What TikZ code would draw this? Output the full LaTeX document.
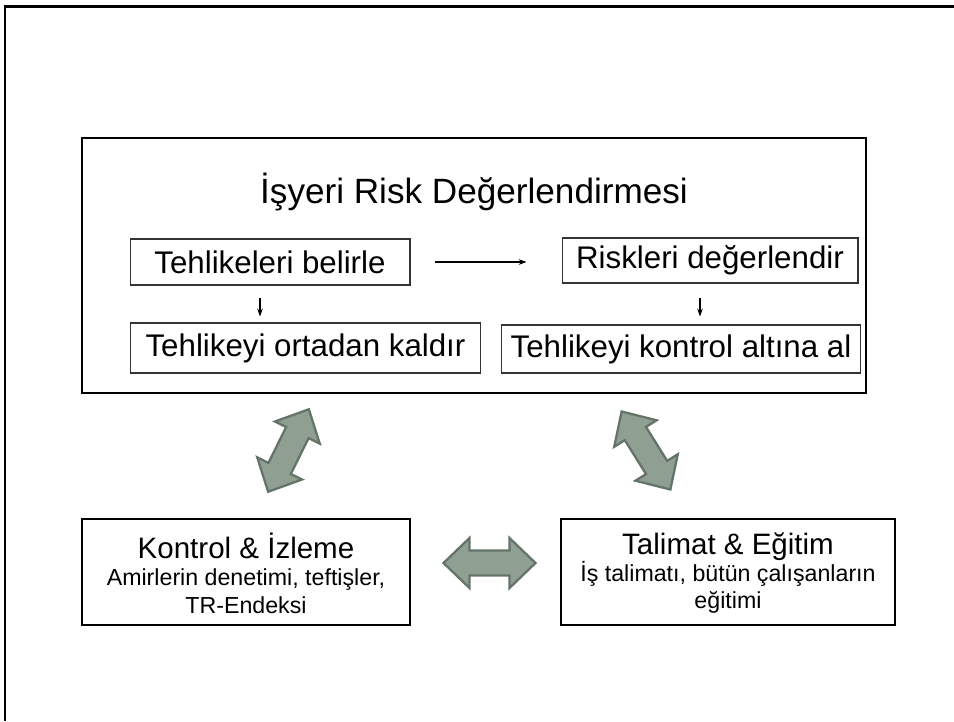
\documentclass[tikz,border=0pt]{standalone}
\usepackage{fontspec}
\setmainfont{Liberation Sans}
\usetikzlibrary{arrows.meta}

\definecolor{arrowfill}{RGB}{143,160,147}
\definecolor{arrowedge}{RGB}{100,116,104}

\tikzset{
  stepbox/.style={draw=black!80, line width=0.6pt, font=\fontsize{17.8}{20}\selectfont, inner sep=0pt},
  mainbox/.style={draw, line width=1.6pt, inner sep=0pt},
  lowbox/.style={draw, line width=1.4pt, inner sep=0pt},
  flow/.style={->, line width=0.6pt},
  blockarrow/.pic={
    \draw[fill=arrowfill, draw=arrowedge, line width=1.3pt, line join=miter]
      (-46,0) -- (-20,-25) -- (-20,-12.5) -- (20,-12.5) -- (20,-25) -- (46,0)
      -- (20,25) -- (20,12.5) -- (-20,12.5) -- (-20,25) -- cycle;
  }
}

\begin{document}
\begin{tikzpicture}[x=0.02cm, y=-0.02cm, >={Stealth[length=4.5pt, width=3.2pt]}]
    \useasboundingbox (0,0) rectangle (954,721);
    \draw[line width=1.7pt] (5,721) -- (5,6.5) -- (954,6.5);

    % risk assessment block
    \node[mainbox, minimum width=15.68cm, minimum height=5.1cm] (main) at (474,265.5) {};
    \node[font=\fontsize{20}{24}\selectfont] (title) at (474,192) {İşyeri Risk Değerlendirmesi};

    \node[stepbox, minimum width=5.6cm, minimum height=0.92cm] (tespit) at (270,262) {Tehlikeleri belirle};
    \node[stepbox, minimum width=5.92cm, minimum height=0.9cm] (degerle) at (710,260.5) {Riskleri değerlendir};
    \node[stepbox, minimum width=7.02cm, minimum height=1.0cm] (kaldir) at (305.5,348) {Tehlikeyi ortadan kaldır};
    \node[stepbox, minimum width=7.2cm, minimum height=0.96cm] (kontrolal) at (681,349) {Tehlikeyi kontrol altına al};

    \draw[flow, shorten <=0.5cm, shorten >=0.7cm] (tespit.east) -- (degerle.west |- tespit.east);
    \draw[flow, shorten <=0.24cm, shorten >=0.12cm] ([xshift=-0.2cm]tespit.south) -- ([xshift=-0.2cm]tespit.south |- kaldir.north);
    \draw[flow, shorten <=0.28cm, shorten >=0.16cm] ([xshift=-0.2cm]degerle.south) -- ([xshift=-0.2cm]degerle.south |- kontrolal.north);

    % lower blocks
    \node[lowbox, minimum width=6.56cm, minimum height=2.12cm] (izleme) at (246,572) {};
    \node[align=center, font=\fontsize{13.2}{15.6}\selectfont] (izlemetxt) at (246,573)
      {{\fontsize{16.8}{18}\selectfont Kontrol \& İzleme}\\Amirlerin denetimi, teftişler,\\TR-Endeksi};
    \node[lowbox, minimum width=6.68cm, minimum height=2.12cm] (egitim) at (728,572) {};
    \node[align=center, font=\fontsize{13.2}{15.6}\selectfont] (egitimtxt) at (728,573)
      {{\fontsize{16.8}{18}\selectfont Talimat \& Eğitim}\\İş talimatı, bütün çalışanların\\eğitimi};

    % block arrows
    \pic[rotate=63.7] at (288.5,450.5) {blockarrow};
    \pic[rotate=-58] at (646,450.5) {blockarrow};
    \pic at (489.5,563) {blockarrow};
\end{tikzpicture}
\end{document}
